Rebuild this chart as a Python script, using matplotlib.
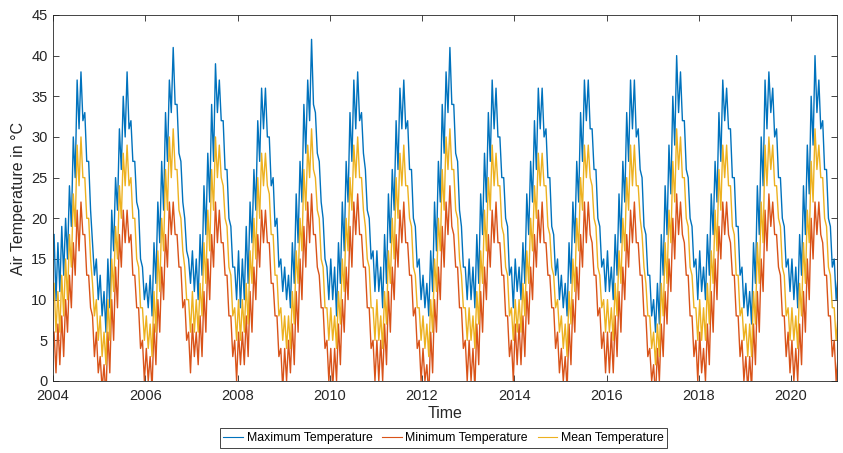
import numpy as np
import matplotlib
matplotlib.use('Agg')
import matplotlib.pyplot as plt

plt.rcParams['font.family'] = ['Liberation Sans', 'DejaVu Sans']

# half-monthly readings (2 per month), Jan 2004 .. Jan 2021
max_temp = [
    18, 10, 17, 11, 19, 13, 20, 15, 24, 19, 30, 25, 37, 31, 38, 32, 33, 27, 27, 21, 17, 13, 15, 10,  # 2004
    13, 8, 11, 6, 15, 9, 21, 16, 25, 21, 31, 26, 35, 30, 38, 31, 32, 27, 27, 22, 21, 15, 14, 10,   # 2005
    12, 9, 13, 8, 17, 12, 22, 17, 27, 21, 33, 27, 37, 33, 41, 34, 34, 28, 27, 22, 20, 16, 15, 12,  # 2006
    16, 11, 15, 10, 18, 13, 24, 18, 28, 22, 34, 27, 39, 33, 37, 32, 32, 26, 26, 20, 19, 14, 14, 10,  # 2007
    16, 9, 15, 10, 19, 12, 22, 17, 26, 21, 32, 27, 36, 31, 36, 30, 30, 24, 25, 19, 20, 14, 15, 11,  # 2008
    14, 10, 13, 9, 17, 12, 23, 17, 27, 22, 34, 28, 37, 32, 42, 34, 33, 28, 27, 22, 20, 15, 14, 10,  # 2009
    15, 10, 14, 8, 17, 12, 22, 16, 27, 22, 33, 27, 37, 31, 38, 32, 33, 28, 26, 21, 20, 15, 16, 11,  # 2010
    16, 11, 14, 9, 18, 12, 23, 17, 26, 21, 32, 26, 36, 31, 37, 31, 32, 26, 26, 20, 19, 14, 15, 10,  # 2011
    13, 9, 12, 8, 16, 11, 22, 16, 27, 22, 34, 28, 38, 33, 41, 34, 34, 28, 27, 21, 19, 14, 14, 10,  # 2012
    15, 10, 14, 9, 18, 12, 23, 18, 28, 22, 33, 27, 37, 31, 36, 30, 30, 25, 25, 20, 19, 13, 14, 9,  # 2013
    15, 11, 14, 10, 17, 12, 23, 18, 27, 22, 32, 26, 36, 31, 36, 30, 31, 25, 25, 19, 18, 13, 15, 10,  # 2014
    13, 9, 12, 8, 17, 12, 22, 17, 27, 22, 33, 27, 37, 32, 37, 31, 31, 26, 26, 20, 19, 14, 15, 11,  # 2015
    16, 11, 14, 10, 18, 13, 23, 17, 27, 22, 33, 27, 37, 31, 37, 30, 31, 26, 25, 19, 18, 13, 13, 8,  # 2016
    10, 6, 12, 7, 18, 13, 24, 18, 29, 23, 35, 29, 40, 33, 38, 32, 32, 26, 25, 20, 19, 14, 15, 10,  # 2017
    16, 11, 14, 10, 18, 13, 23, 18, 27, 22, 33, 27, 37, 32, 36, 31, 31, 25, 25, 19, 19, 13, 14, 9,  # 2018
    12, 8, 11, 7, 17, 12, 24, 18, 30, 24, 37, 31, 38, 33, 36, 30, 31, 25, 25, 20, 19, 14, 15, 11,  # 2019
    15, 10, 14, 9, 18, 13, 24, 18, 29, 23, 35, 29, 40, 33, 37, 31, 32, 26, 26, 20, 19, 14, 15, 10,  # 2020
    13, 9,  # 2021
]

min_temp = [
    6, 1, 7, 2, 8, 3, 10, 6, 13, 9, 17, 13, 21, 16, 22, 18, 18, 13, 13, 9, 8, 3, 6, 1,  # 2004
    3, -1, 2, -2, 6, 1, 10, 5, 14, 9, 18, 14, 21, 17, 21, 17, 18, 13, 13, 9, 9, 4, 5, 0,  # 2005
    4, 0, 3, -1, 7, 2, 10, 6, 14, 10, 18, 14, 22, 18, 22, 18, 18, 14, 14, 9, 10, 5, 6, 1,  # 2006
    7, 3, 6, 2, 8, 3, 11, 6, 15, 10, 18, 14, 22, 17, 21, 17, 17, 13, 13, 8, 8, 3, 5, 0,  # 2007
    6, 2, 6, 2, 8, 3, 11, 6, 14, 10, 18, 14, 21, 17, 21, 17, 17, 12, 12, 8, 8, 3, 4, -1,  # 2008
    4, 0, 5, 1, 7, 2, 11, 6, 15, 10, 19, 14, 22, 17, 23, 18, 18, 14, 13, 9, 9, 4, 5, 0,  # 2009
    4, -1, 4, 0, 7, 2, 10, 6, 14, 10, 19, 14, 22, 18, 23, 18, 18, 14, 14, 9, 9, 4, 5, 0,  # 2010
    5, 0, 5, 0, 7, 2, 11, 6, 14, 10, 18, 14, 21, 17, 22, 17, 17, 13, 13, 8, 9, 4, 5, 0,  # 2011
    4, 0, 2, -2, 6, 1, 10, 6, 14, 10, 19, 14, 22, 18, 24, 19, 18, 14, 14, 9, 9, 4, 5, 0,  # 2012
    5, 0, 4, -1, 7, 2, 11, 6, 14, 10, 18, 14, 21, 17, 22, 17, 17, 13, 13, 8, 8, 3, 5, 0,  # 2013
    7, 2, 7, 2, 8, 3, 11, 7, 14, 10, 18, 14, 21, 17, 22, 17, 17, 13, 13, 9, 9, 4, 6, 1,  # 2014
    4, 0, 3, -1, 7, 2, 10, 6, 14, 10, 18, 14, 22, 17, 22, 18, 17, 13, 13, 8, 9, 4, 6, 1,  # 2015
    6, 1, 6, 1, 8, 3, 11, 6, 14, 10, 18, 14, 21, 17, 22, 17, 17, 13, 13, 8, 8, 3, 4, 0,  # 2016
    2, -2, 4, 0, 7, 3, 11, 7, 15, 11, 20, 15, 23, 18, 22, 18, 17, 13, 13, 8, 8, 3, 5, 0,  # 2017
    6, 1, 4, 0, 7, 2, 11, 6, 15, 10, 19, 15, 22, 18, 22, 18, 17, 13, 13, 8, 8, 3, 5, 0,  # 2018
    3, -1, 3, -1, 7, 2, 11, 6, 15, 11, 21, 16, 23, 19, 22, 18, 18, 14, 13, 8, 8, 3, 6, 1,  # 2019
    5, 0, 4, 0, 7, 2, 11, 6, 15, 10, 20, 15, 22, 18, 22, 18, 17, 13, 13, 8, 8, 3, 5, 0,  # 2020
    3, -1,  # 2021
]

mean_temp = [
    12, 6, 11, 6, 13, 8, 15, 10, 18, 14, 23, 19, 29, 24, 30, 25, 25, 20, 20, 15, 12, 8, 10, 5,  # 2004
    8, 3, 6, 2, 10, 5, 15, 11, 19, 15, 24, 20, 28, 24, 29, 24, 25, 20, 20, 15, 14, 9, 9, 5,  # 2005
    8, 4, 7, 3, 11, 6, 16, 11, 20, 16, 26, 21, 30, 25, 31, 26, 26, 21, 20, 16, 14, 10, 10, 6,  # 2006
    11, 6, 10, 6, 12, 8, 17, 12, 21, 16, 26, 21, 30, 25, 29, 25, 24, 20, 19, 14, 13, 8, 9, 5,  # 2007
    10, 5, 10, 6, 12, 7, 16, 12, 20, 15, 25, 20, 28, 24, 28, 24, 23, 18, 18, 13, 13, 8, 9, 5,  # 2008
    8, 4, 8, 4, 11, 7, 16, 12, 20, 16, 26, 21, 29, 25, 31, 26, 25, 21, 20, 15, 14, 9, 9, 5,  # 2009
    9, 5, 8, 4, 11, 7, 15, 11, 20, 16, 25, 21, 29, 25, 30, 25, 25, 21, 19, 15, 14, 9, 9, 5,  # 2010
    10, 5, 8, 4, 11, 7, 16, 12, 20, 15, 25, 20, 28, 24, 29, 24, 24, 20, 19, 14, 13, 9, 9, 5,  # 2011
    8, 4, 7, 3, 10, 6, 15, 11, 20, 16, 26, 21, 30, 26, 31, 26, 26, 21, 20, 15, 13, 9, 9, 5,  # 2012
    9, 5, 8, 4, 11, 7, 16, 12, 21, 16, 25, 21, 29, 24, 28, 24, 24, 19, 18, 14, 13, 8, 9, 5,  # 2013
    10, 6, 10, 6, 12, 8, 16, 12, 20, 16, 24, 20, 28, 24, 28, 24, 24, 19, 18, 14, 13, 9, 10, 6,  # 2014
    8, 4, 7, 3, 11, 7, 15, 11, 20, 16, 25, 21, 29, 25, 29, 25, 24, 20, 19, 14, 13, 9, 10, 6,  # 2015
    10, 6, 9, 5, 12, 8, 16, 12, 20, 16, 25, 21, 29, 24, 29, 24, 24, 20, 18, 14, 12, 8, 8, 4,  # 2016
    6, 2, 7, 3, 12, 8, 17, 12, 21, 17, 27, 22, 31, 26, 30, 25, 25, 20, 19, 14, 13, 9, 9, 5,  # 2017
    10, 5, 9, 5, 12, 7, 16, 12, 21, 16, 26, 21, 29, 25, 29, 24, 24, 19, 18, 13, 13, 8, 9, 5,  # 2018
    7, 3, 7, 3, 11, 7, 17, 12, 22, 17, 29, 24, 30, 26, 29, 24, 24, 20, 19, 14, 13, 8, 9, 5,  # 2019
    9, 5, 8, 4, 12, 8, 17, 12, 21, 17, 27, 22, 31, 26, 29, 25, 25, 20, 19, 14, 13, 9, 9, 5,  # 2020
    8, 4,  # 2021
]

start_year = 2004
x_ticks = [2004, 2006, 2008, 2010, 2012, 2014, 2016, 2018, 2020]

# time axis: each reading sits in the middle of its half-month
t = start_year + (np.arange(len(max_temp)) + 0.5) / 24

fig = plt.figure(figsize=(8.43, 4.53), dpi=100)
ax = fig.add_axes([0.063, 0.159, 0.930, 0.808])

ax.plot(t, max_temp, color='#0072BD', lw=1.0, label='Maximum Temperature')
ax.plot(t, min_temp, color='#D95319', lw=1.0, label='Minimum Temperature')
ax.plot(t, mean_temp, color='#EDB120', lw=1.0, label='Mean Temperature')

ax.set_xlim(2004, 2021)
ax.set_ylim(0, 45)
ax.set_xticks(x_ticks)
ax.set_yticks(range(0, 46, 5))
ax.tick_params(direction='in', top=True, right=True, length=4, width=0.6,
               labelsize=10.5, colors='#262626')
ax.tick_params(axis='x', pad=6)
ax.tick_params(axis='y', pad=4)
for s in ax.spines.values():
    s.set_color('#262626')
    s.set_linewidth(0.6)

ax.set_xlabel('Time', fontsize=11.5, color='#262626', labelpad=2)
ax.set_ylabel('Air Temperature in °C', fontsize=11.5, color='#262626', labelpad=4)

leg = fig.legend(loc='center', bbox_to_anchor=(0.526, 0.033), ncol=3,
                 fontsize=8.8, handlelength=1.6, handletextpad=0.3,
                 columnspacing=0.8, borderpad=0.3, fancybox=False,
                 edgecolor='#262626', framealpha=1)
leg.get_frame().set_linewidth(0.6)
for line in leg.get_lines():
    line.set_linewidth(0.8)

fig.savefig('out.png', dpi=100)
